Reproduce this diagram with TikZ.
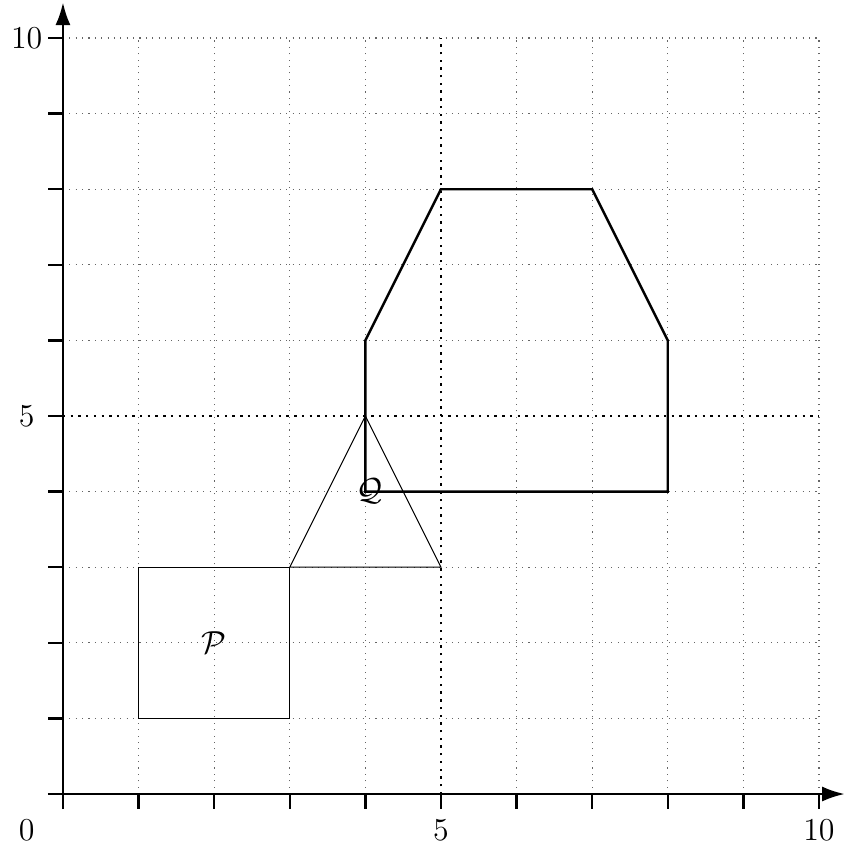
\documentclass[tikz,border=0pt]{standalone}
\usetikzlibrary{arrows.meta}
\begin{document}
\begin{tikzpicture}[x=1cm,y=1cm,
  gridline/.style={dotted,gray!80!black,line width=0.4pt},
  midline/.style={dotted,black,line width=0.9pt},
  axis/.style={line width=0.9pt,-{Latex[length=3mm,width=2mm]}},
  tickmark/.style={line width=0.9pt},
  thinshape/.style={line width=0.4pt},
  thickshape/.style={line width=0.9pt,line join=miter},
  lbl/.style={font=\large,inner sep=0pt}]
\useasboundingbox (-0.833,-0.767) rectangle (10.344,10.503);
% grid
\foreach \i in {1,2,3,4,6,7,8,9,10} {
  \draw[gridline] (\i,0) -- (\i,10);
  \draw[gridline] (0,\i) -- (10,\i);
}
\draw[midline] (5,0) -- (5,10);
\draw[midline] (0,5) -- (10,5);
% axes
\coordinate (xs) at (-0.2,0);
\coordinate (xe) at (10.34,0);
\coordinate (ys) at (0,-0.2);
\coordinate (ye) at (0,10.47);
\draw[axis] (xs) -- (xe);
\draw[axis] (ys) -- (ye);
\foreach \i in {1,...,10} {
  \draw[tickmark] (\i,0) -- (\i,-0.2);
  \draw[tickmark] (0,\i) -- (-0.2,\i);
}
% labels
\node[lbl] (l0) at (-0.48,-0.48) {$0$};
\node[lbl] (lx5) at (5,-0.48) {$5$};
\node[lbl] (lx10) at (10,-0.48) {$10$};
\node[lbl] (ly5) at (-0.48,5) {$5$};
\node[lbl] (ly10) at (-0.48,10) {$10$};
% shapes
\draw[thinshape] (1,1) rectangle (3,3);
\draw[thinshape] (3,3) -- (5,3) -- (4,5) -- cycle;
\draw[thickshape] (4,4) -- (4,6) -- (5,8) -- (7,8) -- (8,6) -- (8,4) -- cycle;
\node[lbl] (P) at (2,2) {$\mathcal{P}$};
\node[lbl] (Q) at (4.05,4) {$\mathcal{Q}$};
\end{tikzpicture}
\end{document}
